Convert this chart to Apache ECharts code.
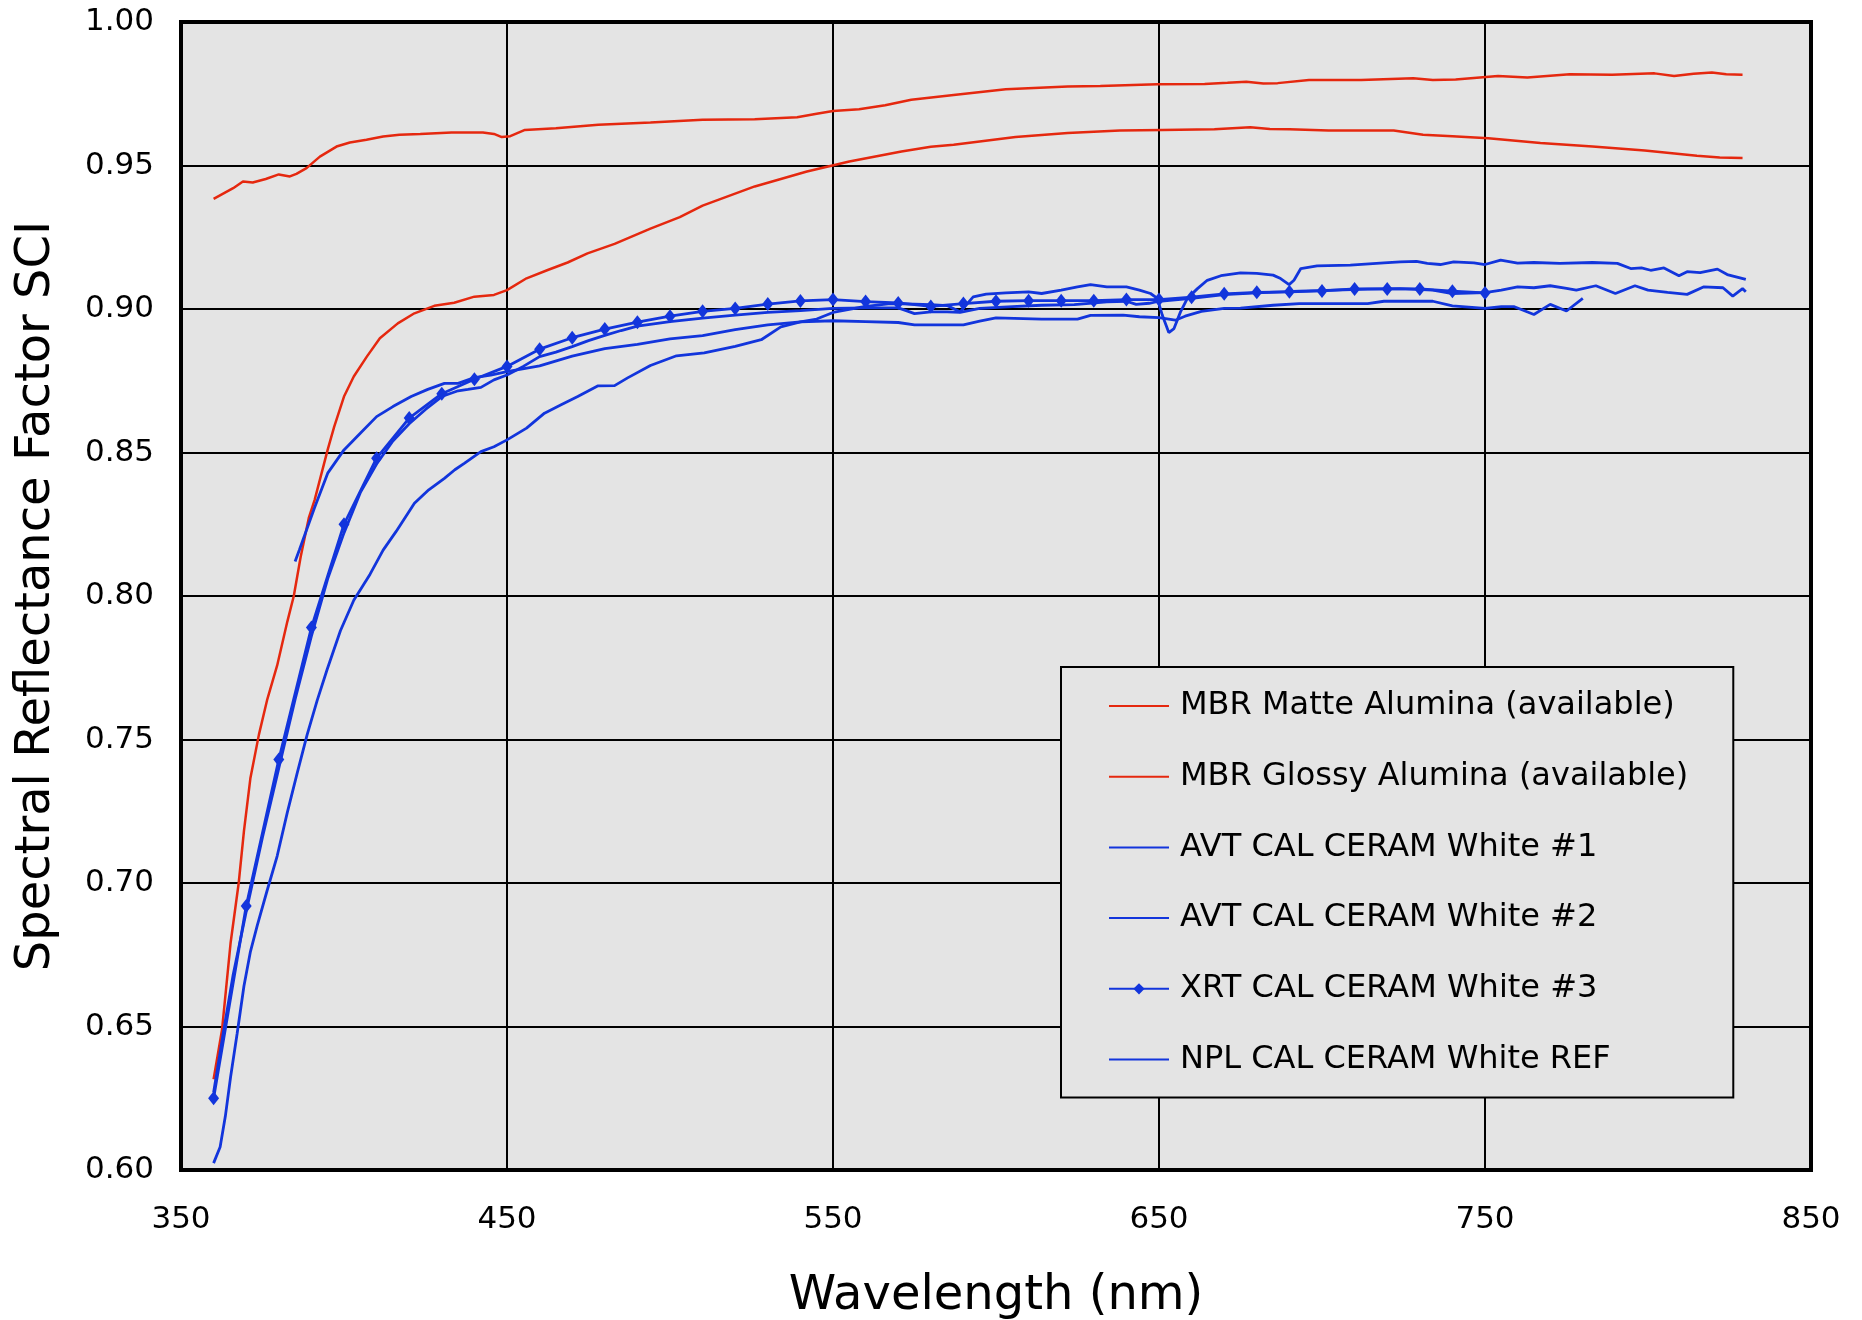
<!DOCTYPE html>
<html>
<head>
<meta charset="utf-8">
<title>Spectral Reflectance Factor SCI</title>
<script src="https://cdn.jsdelivr.net/npm/echarts@6/dist/echarts.min.js"></script>
<style>
  html, body { margin: 0; padding: 0; background: #ffffff; }
  #chart { width: 1862px; height: 1320px; }
</style>
</head>
<body>
<div id="chart"></div>
<script>
// Wavelength (nm) / reflectance pairs for each reference tile
const matteAlumina = [[360,0.9384],[366,0.9421],[369,0.9444],[372,0.9441],[376,0.9453],[380,0.9469],[383.4,0.9462],[385.4,0.9471],[388.5,0.9491],[392.6,0.9531],[397.7,0.9566],[401.8,0.958],[406.9,0.959],[412,0.9601],[417,0.9607],[423.4,0.961],[433,0.9615],[442.6,0.9615],[446,0.961],[448.4,0.9599],[451,0.9602],[455.5,0.9624],[465,0.963],[478,0.9642],[494,0.965],[510,0.9659],[526,0.9661],[539,0.9668],[545,0.968],[550,0.969],[558,0.9696],[566,0.971],[574,0.9729],[587,0.9746],[603,0.9766],[622,0.9775],[632,0.9777],[649.5,0.9783],[664,0.9784],[671,0.9788],[676.8,0.9792],[682,0.9786],[686.4,0.9787],[696,0.9798],[712,0.9798],[728,0.9804],[734,0.9798],[741,0.98],[754,0.9812],[763,0.9807],[776,0.9818],[789,0.9816],[802,0.9821],[808,0.9812],[814,0.982],[819.6,0.9824],[824,0.9818],[829,0.9816]];

const glossyAlumina = [[360,0.6316],[362.6,0.649],[365.2,0.679],[367.7,0.7],[369.3,0.718],[371.3,0.7366],[373.9,0.7517],[376.4,0.7637],[379.5,0.7758],[382.6,0.791],[384.6,0.8],[386.7,0.8136],[389.2,0.8272],[391,0.8335],[395,0.851],[397,0.859],[400,0.8695],[403,0.8765],[407,0.8834],[411,0.8898],[416.5,0.895],[421.6,0.8985],[427.7,0.9011],[433.8,0.9022],[440,0.9043],[446,0.9049],[450,0.9066],[456,0.9107],[462.5,0.9136],[468.6,0.9162],[474.7,0.9194],[483,0.9227],[494,0.928],[503,0.932],[510,0.936],[526,0.9427],[542,0.9479],[555,0.9514],[571,0.9549],[580,0.9565],[587,0.9572],[606,0.9599],[622,0.9613],[638,0.9622],[651,0.9624],[667,0.9626],[678,0.9633],[684,0.9627],[690,0.9626],[702,0.9622],[722,0.9622],[731,0.9607],[740,0.9602],[751,0.9595],[767,0.9578],[783,0.9566],[799,0.9552],[815,0.9534],[822,0.9528],[829,0.9526]];

const avtWhite1 = [[360,0.6024],[362,0.608],[363.6,0.6187],[365.2,0.6323],[367.2,0.6474],[369.3,0.664],[371.3,0.6761],[373.4,0.6852],[376.4,0.6973],[379.5,0.7094],[382.6,0.7245],[385.6,0.7381],[388.7,0.7517],[391.8,0.7637],[394.8,0.7743],[398.9,0.7879],[403,0.7985],[408,0.8076],[412,0.816],[416,0.8225],[421.6,0.8323],[426,0.837],[430.8,0.841],[434,0.844],[437,0.8463],[442,0.8503],[446,0.852],[450,0.8544],[456,0.8585],[461.5,0.8637],[466.6,0.8666],[471.7,0.8695],[477.8,0.8732],[483,0.8733],[487,0.876],[494,0.8803],[502,0.8837],[510.5,0.8847],[520,0.887],[528,0.8893],[534,0.8938],[540,0.8955],[545,0.8965],[550,0.8988],[559.5,0.9008],[567.6,0.9019],[575,0.9017],[580,0.9015],[585,0.9012],[589,0.899],[593,0.9042],[597,0.9052],[603,0.9056],[610,0.906],[614,0.9054],[620,0.9066],[625,0.9077],[629,0.9085],[634,0.9077],[640,0.9077],[644,0.9066],[647.4,0.9054],[649.5,0.9037],[651,0.8979],[653,0.8918],[654.6,0.8932],[656.6,0.899],[658.7,0.9037],[661.8,0.9071],[664.8,0.91],[669,0.9116],[675,0.9126],[680,0.9124],[685,0.9118],[687.3,0.9106],[689.9,0.9085],[691.4,0.91],[693.5,0.9141],[698.5,0.915],[708.7,0.9153],[719,0.9161],[724,0.9164],[729,0.9166],[732.3,0.9159],[736.3,0.9155],[740.4,0.9164],[746.6,0.9161],[750,0.9155],[754.8,0.917],[760,0.916],[765,0.9162],[773,0.9159],[783,0.9162],[790.6,0.9159],[794.7,0.9141],[798,0.9143],[800.8,0.9135],[804.9,0.9143],[809.5,0.9116],[812,0.913],[816,0.9127],[821.3,0.9139],[824.3,0.912],[830,0.9103]];

const avtWhite2 = [[360,0.627],[363,0.648],[366,0.668],[370,0.69],[375,0.716],[380,0.74],[385,0.764],[390,0.786],[395,0.806],[400,0.822],[405,0.836],[410,0.846],[415,0.854],[420,0.86],[425,0.865],[430,0.8695],[435,0.8715],[438,0.872],[442,0.8727],[446,0.8753],[450,0.877],[455,0.88],[460,0.8834],[465,0.885],[470,0.8869],[475,0.889],[480,0.8908],[485,0.8925],[490,0.894],[495,0.8948],[500,0.8956],[510,0.8968],[520,0.8979],[530,0.8988],[540,0.8994],[550,0.9002],[560,0.9004],[570,0.9004],[572,0.8996],[575,0.8984],[580,0.899],[585,0.899],[589,0.8988],[595,0.9002],[605,0.9008],[614,0.9013],[624,0.9015],[634,0.9025],[640,0.9027],[643,0.9016],[647,0.902],[650,0.9027],[660,0.9037],[670,0.905],[680,0.9056],[693,0.9062],[704,0.9066],[714,0.9069],[724,0.9071],[734,0.9066],[740,0.9054],[745,0.9055],[750,0.9057],[755,0.9066],[760,0.9077],[765,0.9074],[770,0.9081],[775,0.9072],[778,0.9066],[784,0.9081],[790,0.9054],[796,0.9081],[800,0.9066],[806,0.9058],[812,0.9051],[817,0.9077],[823,0.9074],[826,0.9045],[829,0.9071],[830,0.906]];

const xrtWhite3 = [[360,0.625],[370,0.692],[380,0.743],[390,0.789],[400,0.825],[410,0.848],[420,0.862],[430,0.8705],[440,0.8755],[450,0.88],[460,0.886],[470,0.89],[480,0.893],[490,0.8954],[500,0.8975],[510,0.8992],[520,0.9002],[530,0.9017],[540,0.9028],[550,0.9033],[560,0.9026],[570,0.9021],[580,0.9009],[590,0.9019],[600,0.9027],[610,0.9029],[620,0.9029],[630,0.9029],[640,0.9033],[650,0.9033],[660,0.9041],[670,0.9053],[680,0.9058],[690,0.906],[700,0.9063],[710,0.907],[720,0.907],[730,0.907],[740,0.9062],[750,0.9056]];

const nplWhiteRef = [[385,0.812],[386.3,0.816],[390.9,0.8306],[395,0.8428],[400,0.8509],[405,0.8567],[410,0.8625],[415,0.866],[420.6,0.8695],[425.7,0.872],[430.8,0.8741],[435,0.8741],[440,0.8761],[445,0.877],[450,0.8782],[460,0.8802],[470,0.8836],[480,0.8862],[490,0.8877],[500,0.8896],[510,0.8907],[520,0.8928],[530,0.8945],[540,0.8955],[550,0.8959],[560,0.8956],[570,0.8953],[575,0.8945],[590,0.8945],[595,0.8958],[600,0.8969],[614,0.8965],[625,0.8965],[629,0.8978],[639,0.8979],[644,0.8973],[650,0.897],[655,0.8961],[658,0.8975],[663,0.8992],[670,0.9002],[675,0.9003],[685,0.9013],[693,0.9019],[714,0.9019],[719,0.9027],[734,0.9027],[740,0.9011],[750,0.9002],[755,0.9008],[759,0.9008],[765,0.8981],[770,0.9016],[775,0.8993],[780,0.9037]];

const seriesNames = [
  'MBR Matte Alumina (available)',
  'MBR Glossy Alumina (available)',
  'AVT CAL CERAM White #1',
  'AVT CAL CERAM White #2',
  'XRT CAL CERAM White #3',
  'NPL CAL CERAM White REF'
];

const RED = '#e5280f';
const BLUE = '#1235dc';
const FONT = 'DejaVu Sans';

// Plain measured curve: no point symbols, so the legend shows only a line
function lineSeries(name, data, color, width) {
  return {
    name: name,
    type: 'line',
    data: data,
    symbol: 'none',
    showSymbol: false,
    smooth: false,
    lineStyle: { color: color, width: width },
    itemStyle: { color: color, opacity: 0 },
    emphasis: { disabled: true },
    animation: false
  };
}

// XRT tile: 10 nm steps marked with diamonds
const xrtSeries = lineSeries(seriesNames[4], xrtWhite3, BLUE, 2.8);
xrtSeries.symbol = 'diamond';
xrtSeries.showSymbol = true;
xrtSeries.symbolSize = [11, 14];
xrtSeries.itemStyle = { color: BLUE, opacity: 1 };

const legendItems = seriesNames.map(function (n, i) {
  return i === 4 ? { name: n } : { name: n, itemStyle: { opacity: 0 } };
});

const chart = echarts.init(document.getElementById('chart'), null, { renderer: 'canvas' });

chart.setOption({
  backgroundColor: '#ffffff',
  animation: false,
  textStyle: { fontFamily: FONT, color: '#000' },
  grid: {
    left: 181, top: 22, right: 51, bottom: 150,
    show: true,
    backgroundColor: '#e4e4e4',
    borderColor: '#000000',
    borderWidth: 4,
    containLabel: false,
    outerBoundsMode: 'none'
  },
  xAxis: {
    type: 'value',
    min: 350, max: 850, interval: 100,
    name: 'Wavelength (nm)',
    nameLocation: 'middle',
    nameGap: 103,
    nameTextStyle: { fontFamily: FONT, fontSize: 48, color: '#000' },
    axisLine: { show: false },
    axisTick: { show: false },
    axisLabel: { fontFamily: FONT, fontSize: 31, color: '#000', margin: 34 },
    splitLine: { show: true, lineStyle: { color: '#000', width: 2 } }
  },
  yAxis: {
    type: 'value',
    min: 0.6, max: 1.0, interval: 0.05,
    name: 'Spectral Reflectance Factor SCI',
    nameLocation: 'middle',
    nameGap: 120,
    nameTextStyle: { fontFamily: FONT, fontSize: 48, color: '#000' },
    axisLine: { show: false },
    axisTick: { show: false },
    axisLabel: {
      fontFamily: FONT, fontSize: 31, color: '#000', margin: 27,
      formatter: function (v) { return v.toFixed(2); }
    },
    splitLine: { show: true, lineStyle: { color: '#000', width: 2 } }
  },
  legend: {
    orient: 'vertical',
    left: 1061,
    top: 667,
    padding: [23, 45, 22, 47],
    backgroundColor: '#e4e4e4',
    borderColor: '#000000',
    borderWidth: 2,
    itemWidth: 60,
    itemHeight: 14,
    itemGap: 38.7,
    selectedMode: false,
    data: legendItems,
    textStyle: { fontFamily: FONT, fontSize: 32, color: '#000', lineHeight: 32, padding: [0, 0, 0, 6] }
  },
  series: [
    lineSeries(seriesNames[0], matteAlumina, RED, 2.5),
    lineSeries(seriesNames[1], glossyAlumina, RED, 2.5),
    lineSeries(seriesNames[2], avtWhite1, BLUE, 2.8),
    lineSeries(seriesNames[3], avtWhite2, BLUE, 2.8),
    xrtSeries,
    lineSeries(seriesNames[5], nplWhiteRef, BLUE, 2.8)
  ]
});
</script>
</body>
</html>
